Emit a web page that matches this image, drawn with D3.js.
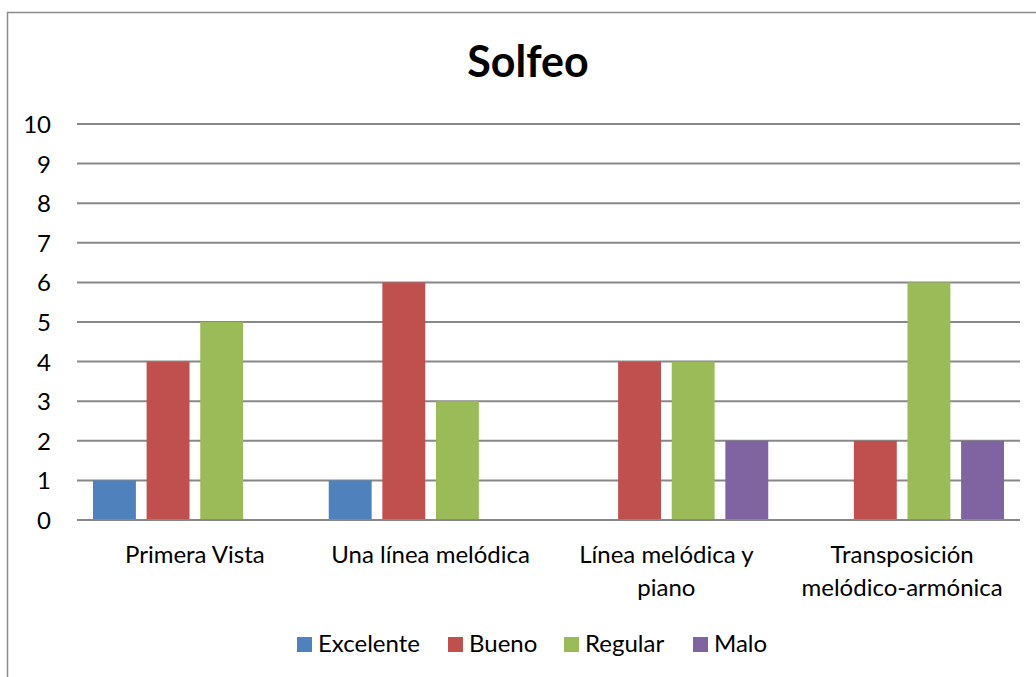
<!DOCTYPE html>
<html>
<head>
<meta charset="utf-8">
<script src="https://cdn.jsdelivr.net/npm/d3@7"></script>
<style>
  body { margin: 0; background: #fff; }
  svg text { font-family: Lato, "Open Sans", sans-serif; fill: #000; }
</style>
</head>
<body>
<div id="chart"></div>
<script>
// chart data
const categories = [
  ['Primera Vista'],
  ['Una línea melódica'],
  ['Línea melódica y', 'piano'],
  ['Transposición', 'melódico-armónica']
];
const seriesNames = ['Excelente', 'Bueno', 'Regular', 'Malo'];
const seriesColors = ['#4F81BD', '#C0504D', '#9BBB59', '#8064A2'];
const excelente = [1, 1, 0, 0];
const bueno = [4, 6, 4, 2];
const regular = [5, 3, 4, 6];
const malo = [0, 0, 2, 2];
const yTicks = [0, 1, 2, 3, 4, 5, 6, 7, 8, 9, 10];

const values = [excelente, bueno, regular, malo];

const config = {
  width: 1036, height: 677,
  left: 77, right: 1020, top: 124, bottom: 520
};

const svg = d3.select('#chart')
  .append('svg')
  .attr('width', config.width)
  .attr('height', config.height);

// outer chart border (continues past the image edge)
svg.append('rect')
  .attr('x', 7.5)
  .attr('y', 12.5)
  .attr('width', 1100)
  .attr('height', 800)
  .attr('fill', 'none')
  .attr('stroke', '#8c8c8c')
  .attr('stroke-width', 1.5);

// title
svg.append('text')
  .attr('x', 528)
  .attr('y', 77)
  .attr('text-anchor', 'middle')
  .style('font-size', '43px')
  .style('font-weight', '700')
  .text('Solfeo');

const scaleX = d3.scaleBand()
  .domain(d3.range(categories.length))
  .range([config.left, config.right]);

const scaleY = d3.scaleLinear()
  .domain([0, 10])
  .range([config.bottom, config.top]);

const scaleInner = d3.scaleBand()
  .domain(d3.range(seriesNames.length))
  .range([16, scaleX.bandwidth() - 16])
  .paddingInner(0.2);

// grid lines
svg.append('g')
  .selectAll('line')
  .data(yTicks)
  .join('line')
  .attr('x1', config.left)
  .attr('x2', config.right)
  .attr('y1', d => scaleY(d))
  .attr('y2', d => scaleY(d))
  .attr('stroke', '#888')
  .attr('stroke-width', 2);

// y labels
svg.append('g')
  .selectAll('text')
  .data(yTicks)
  .join('text')
  .attr('x', 51)
  .attr('y', d => scaleY(d) + 9)
  .attr('text-anchor', 'end')
  .style('font-size', '24px')
  .text(d => d);

// bars
const groups = svg.append('g')
  .selectAll('g')
  .data(categories.map((c, i) => i))
  .join('g')
  .attr('transform', i => `translate(${scaleX(i)},0)`);

groups.selectAll('rect')
  .data(i => values.map((s, j) => ({ s: j, v: s[i] })))
  .join('rect')
  .attr('x', d => scaleInner(d.s))
  .attr('width', scaleInner.bandwidth())
  .attr('y', d => scaleY(d.v))
  .attr('height', d => scaleY(0) - scaleY(d.v) - 1)
  .attr('fill', d => seriesColors[d.s]);

// category labels
const labels = svg.append('g')
  .selectAll('text')
  .data(categories)
  .join('text')
  .attr('x', (d, i) => scaleX(i) + scaleX.bandwidth() / 2)
  .attr('y', 563)
  .attr('text-anchor', 'middle')
  .style('font-size', '24px');

labels.selectAll('tspan')
  .data(d => d)
  .join('tspan')
  .attr('x', function () { return d3.select(this.parentNode).attr('x'); })
  .attr('dy', (d, i) => i === 0 ? 0 : 33)
  .text(d => d);

// legend
const legendX = [297, 448, 564, 693];
const legend = svg.append('g')
  .selectAll('g')
  .data(seriesNames)
  .join('g')
  .attr('transform', (d, i) => `translate(${legendX[i]},637)`);

legend.append('rect')
  .attr('width', 15)
  .attr('height', 15)
  .attr('fill', (d, i) => seriesColors[i]);

legend.append('text')
  .attr('x', 21)
  .attr('y', 15)
  .style('font-size', '24px')
  .text(d => d);
</script>
</body>
</html>
